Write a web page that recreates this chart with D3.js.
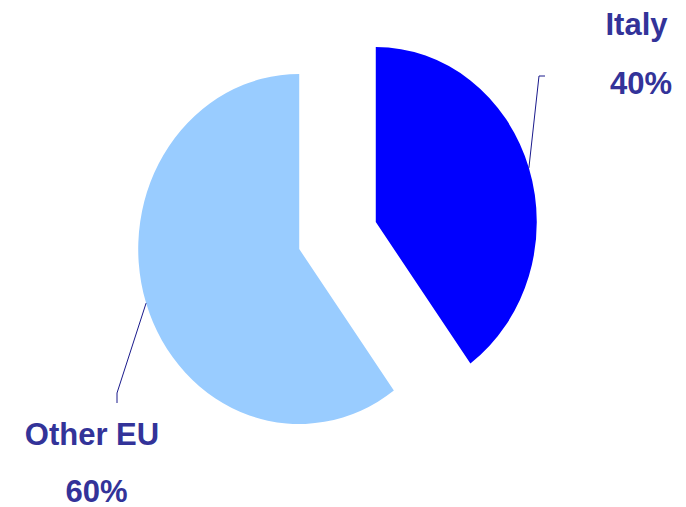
<!DOCTYPE html>
<html>
<head>
<meta charset="utf-8">
<script src="https://cdn.jsdelivr.net/npm/d3@7"></script>
<style>
  html, body { margin: 0; padding: 0; background: #fff; }
  svg { display: block; }
  text { font-family: "Liberation Sans", Arial, sans-serif; font-weight: bold; fill: #333399; }
</style>
</head>
<body>
<svg id="chart" width="686" height="507"></svg>
<script>
// ---- data ----
const categories = ["Italy", "Other EU"];
const values = [40, 60];
const percentLabels = ["40%", "60%"];

// ---- layout ----
const W = 686, H = 507;
const cx = 337.5, cy = 235.5;      // base pie centre
const rx = 161, ry = 175;          // elliptical radii
const explode = 0.25;              // fraction of radius each slice is pulled out
const colors = ["#0000FF", "#99CCFF"];
const fontSize = 31;
// label layout: name line position, percent line position, leader elbow & end
const labelLayout = [
  { nameX: 636.5, nameY: 34.5, pctX: 641, pctY: 93.5, elbow: [539, 76], end: [545, 76] },
  { nameX: 92, nameY: 444.5, pctX: 96.5, pctY: 501.5, elbow: [117, 393], end: [117, 403] }
];

const svg = d3.select("#chart");

const data = categories.map((c, i) => ({ name: c, value: values[i], pct: percentLabels[i] }));
const pie = d3.pie().value(d => d.value).sort(null).startAngle(0).endAngle(2 * Math.PI);
const arcs = pie(data);
const arc = d3.arc().innerRadius(0).outerRadius(ry);
const sx = rx / ry;

arcs.forEach((a, i) => {
  const mid = (a.startAngle + a.endAngle) / 2;
  const ox = cx + explode * Math.sin(mid) * rx;
  const oy = cy - explode * Math.cos(mid) * ry;
  a.ox = ox; a.oy = oy; a.mid = mid;
});

svg.selectAll("path.slice")
  .data(arcs)
  .join("path")
  .attr("class", "slice")
  .attr("transform", d => `translate(${d.ox},${d.oy}) scale(${sx},1)`)
  .attr("d", arc)
  .attr("fill", (d, i) => colors[i]);

// leader lines
svg.selectAll("path.leader")
  .data(arcs)
  .join("path")
  .attr("class", "leader")
  .attr("fill", "none")
  .attr("stroke", "#1a1a8c")
  .attr("stroke-width", 1)
  .attr("d", (d, i) => {
    const L = labelLayout[i];
    const sxp = d.ox + Math.sin(d.mid) * rx;
    const syp = d.oy - Math.cos(d.mid) * ry;
    return d3.line()([[sxp, syp], L.elbow, L.end]);
  });

// labels
const g = svg.selectAll("g.label").data(arcs).join("g").attr("class", "label");
g.append("text")
  .attr("x", (d, i) => labelLayout[i].nameX)
  .attr("y", (d, i) => labelLayout[i].nameY)
  .attr("text-anchor", "middle")
  .attr("font-size", fontSize)
  .text(d => d.data.name);
g.append("text")
  .attr("x", (d, i) => labelLayout[i].pctX)
  .attr("y", (d, i) => labelLayout[i].pctY)
  .attr("text-anchor", "middle")
  .attr("font-size", fontSize)
  .text(d => d.data.pct);
</script>
</body>
</html>
